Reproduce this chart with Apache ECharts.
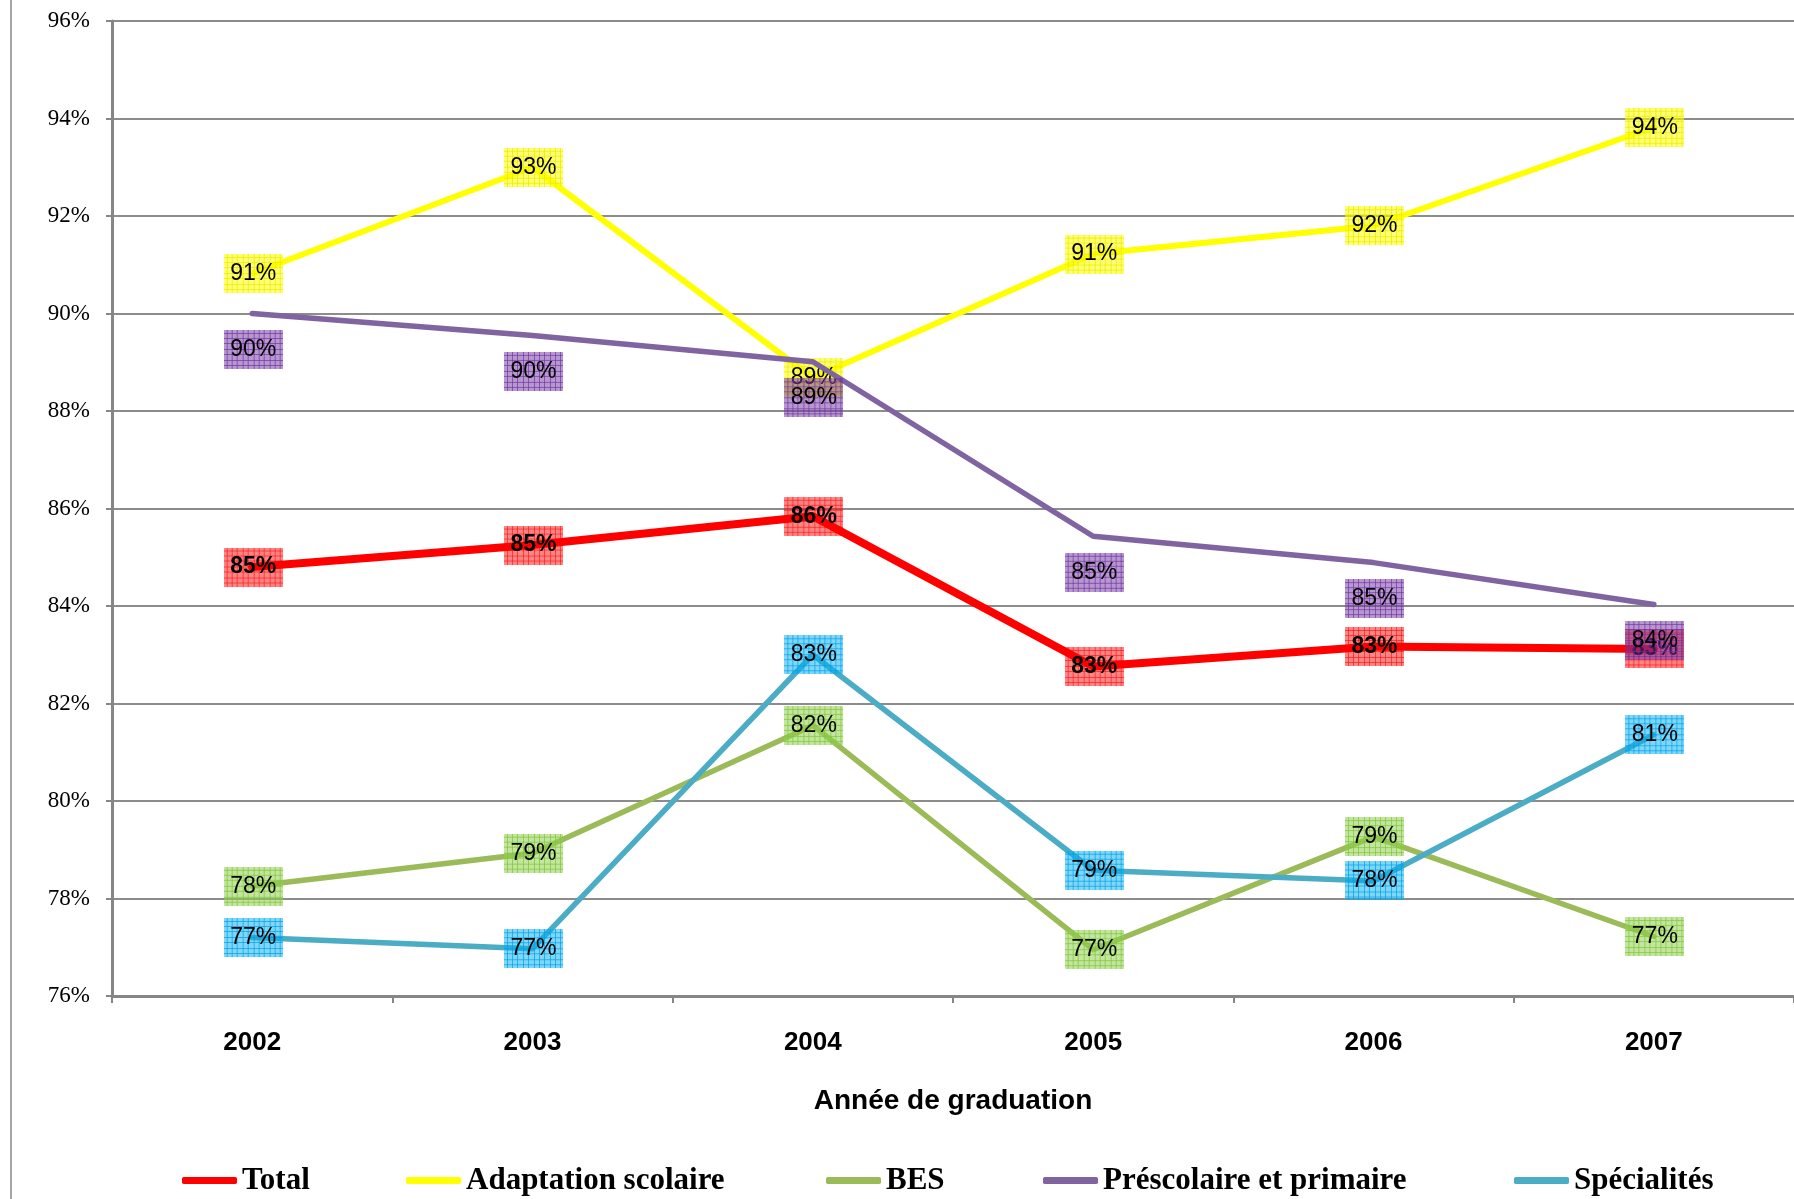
<!DOCTYPE html>
<html><head><meta charset="utf-8">
<script src="https://cdn.jsdelivr.net/npm/echarts@6/dist/echarts.min.js"></script>
<style>html,body{margin:0;padding:0;background:#fff}#c{width:1794px;height:1199px}</style>
</head><body><div id="c"></div>
<script>
// ---- data ----
const years = ['2002', '2003', '2004', '2005', '2006', '2007'];
const total       = [84.80, 85.25, 85.84, 82.76, 83.17, 83.12];
const adaptation  = [90.82, 93.00, 88.68, 91.22, 91.80, 93.82];
const bes         = [78.25, 78.93, 81.55, 76.95, 79.27, 77.22];
const prescolaire = [90.00, 89.55, 89.01, 85.43, 84.89, 84.03];
const specialites = [77.20, 76.97, 83.00, 78.58, 78.36, 81.36];
const seriesNames = ['Total', 'Adaptation scolaire', 'BES', 'Préscolaire et primaire', 'Spécialités'];
const yMin = 76, yMax = 96, yStep = 2;
const xTitle = 'Année de graduation';

// ---- styles ----
const BOX_W = 59, BOX_H = 39;
function pattern(fill, line) {
  const c = document.createElement('canvas');
  c.width = BOX_W; c.height = BOX_H;
  const g = c.getContext('2d');
  g.fillStyle = fill; g.fillRect(0, 0, BOX_W, BOX_H);
  g.strokeStyle = line; g.lineWidth = 1;
  g.beginPath();
  for (let x = 2.5; x < BOX_W; x += 5.4) { const px = Math.round(x) + 0.5; g.moveTo(px, 0); g.lineTo(px, BOX_H); }
  for (let y = 2.5; y < BOX_H; y += 5.4) { const py = Math.round(y) + 0.5; g.moveTo(0, py); g.lineTo(BOX_W, py); }
  g.stroke();
  return c;
}
const styles = [
  { color: '#FF0000', width: 8,   fill: 'rgba(255,0,0,0.48)',    line: 'rgba(255,0,0,0.55)',    bold: true,  dy: 0 },
  { color: '#FFFF00', width: 6,   fill: 'rgba(255,255,0,0.55)',  line: 'rgba(235,235,0,0.75)',  bold: false, dy: 0 },
  { color: '#9BBB59', width: 5.5, fill: 'rgba(146,208,80,0.55)', line: 'rgba(130,200,60,0.75)', bold: false, dy: 0 },
  { color: '#8064A2', width: 5.5, fill: 'rgba(112,48,160,0.50)', line: 'rgba(112,48,160,0.65)', bold: false, dy: 36 },
  { color: '#4BACC6', width: 5.5, fill: 'rgba(0,176,240,0.50)',  line: 'rgba(0,160,235,0.70)',  bold: false, dy: 0 }
];
const datasets = [total, adaptation, bes, prescolaire, specialites];

const legendLefts = [182, 406, 826, 1043, 1514];

const chart = echarts.init(document.getElementById('c'), null, { renderer: 'canvas' });
chart.setOption({
  animation: false,
  backgroundColor: '#fff',
  grid: { left: 112, right: 0, top: 21, bottom: 203, containLabel: false },
  xAxis: {
    type: 'category',
    data: years,
    boundaryGap: true,
    axisLine: { lineStyle: { color: '#868686', width: 3 } },
    axisTick: { show: true, length: 7, lineStyle: { color: '#868686', width: 2 } },
    axisLabel: { margin: 34, color: '#000', fontFamily: 'Liberation Sans, Arial, sans-serif', fontWeight: 'bold', fontSize: 26 },
    splitLine: { show: false },
    name: xTitle,
    nameLocation: 'middle',
    nameGap: 91,
    nameTextStyle: { color: '#000', fontFamily: 'Liberation Sans, Arial, sans-serif', fontWeight: 'bold', fontSize: 28 }
  },
  yAxis: {
    type: 'value',
    min: yMin, max: yMax, interval: yStep,
    axisLine: { show: true, lineStyle: { color: '#868686', width: 3 } },
    axisTick: { show: true, length: 6, lineStyle: { color: '#868686', width: 2 } },
    axisLabel: { margin: 22, color: '#000', fontFamily: 'Liberation Serif, Times New Roman, serif', fontSize: 23, formatter: v => v + '%' },
    splitLine: { show: true, lineStyle: { color: '#8c8c8c', width: 2 } }
  },
  legend: seriesNames.map((n, i) => ({
    data: [n],
    left: legendLefts[i],
    top: 1165,
    icon: 'roundRect',
    itemWidth: 55, itemHeight: 7,
    itemGap: 0,
    padding: 0,
    textStyle: { color: '#000', fontFamily: 'Liberation Serif, Times New Roman, serif', fontWeight: 'bold', fontSize: 31 }
  })),
  graphic: [{
    type: 'line', silent: true,
    shape: { x1: 11, y1: 0, x2: 11, y2: 1199 },
    style: { stroke: '#a6a6a6', lineWidth: 2 }
  }],
  series: seriesNames.map((n, i) => ({
    name: n,
    type: 'line',
    data: datasets[i],
    symbol: 'circle',
    symbolSize: 2,
    showSymbol: true,
    itemStyle: { color: styles[i].color },
    lineStyle: { color: styles[i].color, width: styles[i].width, cap: 'round', join: 'round' },
    label: {
      show: true,
      position: 'inside',
      offset: [1, styles[i].dy],
      formatter: p => Math.round(p.value) + '%',
      width: BOX_W, height: BOX_H, lineHeight: BOX_H,
      align: 'center', verticalAlign: 'middle',
      padding: 0,
      backgroundColor: { image: pattern(styles[i].fill, styles[i].line) },
      color: '#000',
      fontFamily: 'Liberation Sans, Arial, sans-serif',
      fontSize: 23,
      fontWeight: styles[i].bold ? 'bold' : 'normal'
    },
    emphasis: { disabled: true },
    z: 2 + i
  }))
});
</script></body></html>
